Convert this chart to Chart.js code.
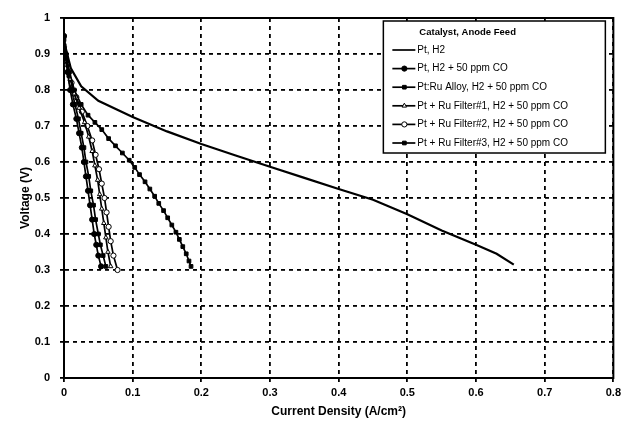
<!DOCTYPE html>
<html>
<head>
<meta charset="utf-8">
<script src="https://cdn.jsdelivr.net/npm/chart.js@4.4.0/dist/chart.umd.min.js"></script>
<style>
  html, body { margin: 0; padding: 0; background: #fff; }
</style>
</head>
<body>
<canvas id="polarization-chart" width="625" height="429"></canvas>
<script>
// values
const legendTitle = 'Catalyst, Anode Feed';
const xTitle = 'Current Density (A/cm²)';
const yTitle = 'Voltage (V)';

const ptH2X = [0.002, 0.01, 0.025, 0.05, 0.1, 0.15, 0.2, 0.25, 0.3, 0.35, 0.4, 0.45, 0.5, 0.55, 0.6, 0.63, 0.655];
const ptH2Y = [0.92, 0.86, 0.81, 0.77, 0.725, 0.685, 0.65, 0.618, 0.587, 0.556, 0.525, 0.495, 0.455, 0.41, 0.37, 0.345, 0.315];

const ptCoX = [0, 0.002, 0.005, 0.009, 0.013, 0.018, 0.022, 0.026, 0.029, 0.032, 0.035, 0.038, 0.041, 0.044, 0.047, 0.05, 0.054];
const ptCoY = [0.95, 0.9, 0.85, 0.8, 0.76, 0.72, 0.68, 0.64, 0.6, 0.56, 0.52, 0.48, 0.44, 0.4, 0.37, 0.34, 0.31];

const alloyX = [0, 0.003, 0.008, 0.015, 0.025, 0.035, 0.045, 0.055, 0.065, 0.075, 0.085, 0.095, 0.103, 0.11, 0.118, 0.125, 0.132, 0.138, 0.145, 0.151, 0.157, 0.163, 0.168, 0.173, 0.178, 0.182, 0.185];
const alloyY = [0.95, 0.9, 0.85, 0.8, 0.76, 0.73, 0.71, 0.69, 0.665, 0.645, 0.625, 0.605, 0.585, 0.565, 0.545, 0.525, 0.505, 0.485, 0.465, 0.445, 0.425, 0.405, 0.385, 0.365, 0.345, 0.325, 0.31];

const filter1X = [0, 0.004, 0.009, 0.015, 0.022, 0.03, 0.036, 0.041, 0.045, 0.049, 0.052, 0.055, 0.058, 0.061, 0.064, 0.068];
const filter1Y = [0.93, 0.88, 0.83, 0.79, 0.75, 0.71, 0.67, 0.63, 0.59, 0.55, 0.51, 0.47, 0.43, 0.39, 0.35, 0.31];

const filter2X = [0, 0.005, 0.011, 0.018, 0.026, 0.034, 0.041, 0.046, 0.051, 0.055, 0.059, 0.062, 0.065, 0.068, 0.072, 0.078];
const filter2Y = [0.92, 0.87, 0.82, 0.78, 0.74, 0.7, 0.66, 0.62, 0.58, 0.54, 0.5, 0.46, 0.42, 0.38, 0.34, 0.3];

const filter3X = [0, 0.003, 0.007, 0.011, 0.016, 0.021, 0.025, 0.029, 0.032, 0.036, 0.039, 0.043, 0.046, 0.05, 0.053, 0.057, 0.061];
const filter3Y = [0.94, 0.89, 0.84, 0.8, 0.76, 0.72, 0.68, 0.64, 0.6, 0.56, 0.52, 0.48, 0.44, 0.4, 0.37, 0.34, 0.31];

const toPoints = (xs, ys) => xs.map((x, i) => ({ x: x, y: ys[i] }));
const plainNumber = (v) => String(Number(v.toFixed(1)));

function series(label, xs, ys, pointStyle, fill) {
  return {
    label: label,
    data: toPoints(xs, ys),
    showLine: true,
    borderColor: '#000',
    borderWidth: pointStyle ? 1.7 : 2.2,
    pointStyle: pointStyle,
    pointRadius: pointStyle ? 2.6 : 0,
    pointBorderWidth: 1,
    pointBorderColor: '#000',
    pointBackgroundColor: fill,
    tension: 0
  };
}

// dashed grid box is closed by a solid frame, like the original
const frame = {
  id: 'frame',
  beforeDatasetsDraw(chart) {
    const a = chart.chartArea;
    const ctx = chart.ctx;
    ctx.save();
    ctx.strokeStyle = '#000';
    ctx.lineWidth = 2;
    ctx.strokeRect(a.left, a.top, a.right - a.left, a.bottom - a.top);
    ctx.restore();
  }
};

// boxed legend inside the plot, top right
const boxLegend = {
  id: 'boxLegend',
  afterDatasetsDraw(chart) {
    const ctx = chart.ctx;
    const a = chart.chartArea;
    const w = 222, h = 132;
    const x = a.right - w - 8, y = a.top + 3;
    ctx.save();
    ctx.fillStyle = '#fff';
    ctx.fillRect(x, y, w, h);
    ctx.strokeStyle = '#000';
    ctx.lineWidth = 1.5;
    ctx.strokeRect(x, y, w, h);
    ctx.fillStyle = '#000';
    ctx.textBaseline = 'middle';
    ctx.font = 'bold 9.5px "Liberation Sans", Arial, sans-serif';
    ctx.fillText(legendTitle, x + 36, y + 11);
    ctx.font = '10px "Liberation Sans", Arial, sans-serif';
    chart.data.datasets.forEach((ds, i) => {
      const rowY = y + 29 + i * 18.6;
      ctx.strokeStyle = '#000';
      ctx.lineWidth = 1.7;
      ctx.beginPath();
      ctx.moveTo(x + 9, rowY);
      ctx.lineTo(x + 32, rowY);
      ctx.stroke();
      if (ds.pointStyle) {
        ctx.fillStyle = ds.pointBackgroundColor;
        ctx.lineWidth = 1;
        Chart.helpers.drawPoint(ctx, { pointStyle: ds.pointStyle, radius: 2.6, borderWidth: 1, rotation: 0 }, x + 21, rowY);
      }
      ctx.fillStyle = '#000';
      ctx.fillText(ds.label, x + 34, rowY);
    });
    ctx.restore();
  }
};

const tickFont = { family: '"Liberation Sans", Arial, sans-serif', size: 11, weight: 'bold' };
const titleFont = { family: '"Liberation Sans", Arial, sans-serif', size: 12, weight: 'bold' };
const gridStyle = {
  color: '#000',
  lineWidth: 1.8,
  tickLength: 4,
  tickColor: '#000'
};

new Chart(document.getElementById('polarization-chart'), {
  type: 'scatter',
  data: {
    datasets: [
      series('Pt, H2', ptH2X, ptH2Y, false, '#000'),
      series('Pt, H2 + 50 ppm CO', ptCoX, ptCoY, 'circle', '#000'),
      series('Pt:Ru Alloy, H2 + 50 ppm CO', alloyX, alloyY, 'rect', '#000'),
      series('Pt + Ru Filter#1, H2 + 50 ppm CO', filter1X, filter1Y, 'triangle', '#fff'),
      series('Pt + Ru Filter#2, H2 + 50 ppm CO', filter2X, filter2Y, 'circle', '#fff'),
      series('Pt + Ru Filter#3, H2 + 50 ppm CO', filter3X, filter3Y, 'rect', '#000')
    ]
  },
  options: {
    responsive: false,
    animation: false,
    devicePixelRatio: 1,
    layout: { padding: { top: 18, right: 10, left: 14, bottom: 6 } },
    plugins: {
      legend: { display: false },
      tooltip: { enabled: false }
    },
    scales: {
      x: {
        type: 'linear',
        min: 0,
        max: 0.8,
        grid: gridStyle,
        border: { display: true, color: '#000', width: 2, dash: [4, 4] },
        ticks: { stepSize: 0.1, color: '#000', font: tickFont, padding: 4, callback: plainNumber },
        title: { display: true, text: xTitle, color: '#000', font: titleFont, padding: { top: 4 } },
        afterFit: (scale) => { scale.height = 45; }
      },
      y: {
        min: 0,
        max: 1,
        grid: gridStyle,
        border: { display: true, color: '#000', width: 2, dash: [4, 4] },
        ticks: { stepSize: 0.1, color: '#000', font: tickFont, padding: 10, callback: plainNumber },
        title: { display: true, text: yTitle, color: '#000', font: titleFont, padding: { bottom: 2 } },
        afterFit: (scale) => { scale.width = 50; }
      }
    }
  },
  plugins: [frame, boxLegend]
});
</script>
</body>
</html>
